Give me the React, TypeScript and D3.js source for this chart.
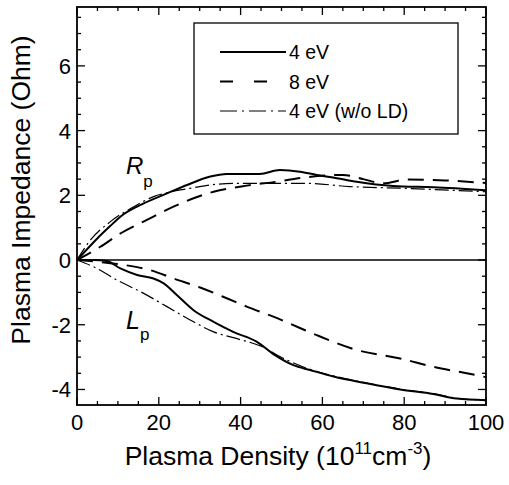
import React from "react";
import * as d3 from "d3";

const W = 509, H = 485;
const M = { left: 77, right: 486, top: 7, bottom: 405 };

const xTicks = [0, 20, 40, 60, 80, 100];
const yTicks = [-4, -2, 0, 2, 4, 6];

// R_p curves
const rp4x = [0, 4.9, 8.1, 10.6, 16.3, 22, 26.9, 32.6, 36.6, 44.7, 49.6, 54.5, 58.6, 63.5, 68.4, 77.3, 87.1, 100];
const rp4y = [0, 0.66, 1.05, 1.34, 1.75, 2.06, 2.32, 2.58, 2.66, 2.66, 2.78, 2.73, 2.63, 2.53, 2.42, 2.29, 2.25, 2.16];

const rp8x = [0, 5.7, 10.6, 17.1, 23.6, 28.5, 33.4, 41.5, 48.8, 56.2, 65, 70, 74.9, 80.6, 90, 100];
const rp8y = [0, 0.41, 0.82, 1.24, 1.65, 1.91, 2.11, 2.3, 2.42, 2.56, 2.63, 2.5, 2.37, 2.49, 2.46, 2.38];

const rpNx = [0, 3.3, 8.1, 13.9, 18.7, 22, 26.9, 32.6, 38, 44.7, 56.2, 66.7, 79, 100];
const rpNy = [0, 0.62, 1.18, 1.65, 1.96, 2.08, 2.2, 2.32, 2.37, 2.37, 2.37, 2.27, 2.22, 2.11];

// L_p curves
const lp4x = [0, 4, 7.3, 10.6, 14.7, 18.7, 21.2, 24.4, 28.5, 33.4, 38.2, 43.9, 48.4, 52.9, 57, 62.7, 70.8, 79, 87.1, 92.8, 100];
const lp4y = [0, 0, -0.03, -0.26, -0.46, -0.57, -0.72, -1.08, -1.55, -1.91, -2.22, -2.52, -2.94, -3.25, -3.4, -3.6, -3.81, -4.0, -4.14, -4.28, -4.33];

const lp8x = [0, 4.9, 11.4, 17.9, 23.6, 30.1, 36.6, 41.5, 48, 54.5, 58.6, 68.4, 79, 87.1, 95.3, 100];
const lp8y = [0, -0.05, -0.15, -0.31, -0.57, -0.85, -1.18, -1.44, -1.75, -2.1, -2.32, -2.78, -3.04, -3.3, -3.5, -3.62];

const lpNx = [0, 4.9, 9.8, 16.3, 22, 28.5, 33.4, 38.2, 44.7, 51.3, 57, 62.7, 70.8, 79, 87.1, 92.8, 100];
const lpNy = [0, -0.26, -0.62, -1.03, -1.44, -1.91, -2.22, -2.4, -2.65, -3.09, -3.38, -3.58, -3.8, -3.99, -4.13, -4.27, -4.33];

const legendLabels = ["4 eV", "8 eV", "4 eV (w/o LD)"];

const x = d3.scaleLinear().domain([0, 100]).range([M.left, M.right]);
const y = d3.scaleLinear().domain([-4.48, 7.82]).range([M.bottom, M.top]);

const line = d3
  .line<[number, number]>()
  .x((d) => x(d[0]))
  .y((d) => y(d[1]))
  .curve(d3.curveMonotoneX);

const zip = (a: number[], b: number[]) => a.map((v, i) => [v, b[i]] as [number, number]);

const SOLID = { dash: undefined as string | undefined, w: 2 };
const DASH = { dash: "16,9", w: 2 };
const DASHDOT = { dash: "14,4,2,4", w: 1.2 };

export default function App() {
  const font = "'Liberation Sans', Arial, sans-serif";
  const xMinor = d3.range(0, 100.01, 5);
  const yMinor = d3.range(-4, 7.6, 0.5);
  const curves = [
    { d: zip(rp4x, rp4y), s: SOLID },
    { d: zip(rp8x, rp8y), s: DASH },
    { d: zip(rpNx, rpNy), s: DASHDOT },
    { d: zip(lp4x, lp4y), s: SOLID },
    { d: zip(lp8x, lp8y), s: DASH },
    { d: zip(lpNx, lpNy), s: DASHDOT },
  ];
  const legendStyles = [
    { dash: undefined as string | undefined, w: 2 },
    { dash: "13,21", w: 2 },
    { dash: "17,5,2,5", w: 1.2 },
  ];
  return (
    <svg
      width={W}
      height={H}
      style={{ position: "absolute", left: 0, top: 0, background: "#fff" }}
      fontFamily={font}
    >
      <rect x={0} y={0} width={W} height={H} fill="#fff" />
      {/* zero line */}
      <line x1={M.left} x2={M.right} y1={y(0)} y2={y(0)} stroke="#000" strokeWidth={1.6} />
      {/* curves */}
      {curves.map((c, i) => (
        <path
          key={i}
          d={line(c.d) || ""}
          fill="none"
          stroke="#000"
          strokeWidth={c.s.w}
          strokeDasharray={c.s.dash}
        />
      ))}
      {/* ticks */}
      {xMinor.map((t) => {
        const major = t % 20 === 0;
        const len = major ? 8 : 4;
        return (
          <g key={"xt" + t}>
            <line x1={x(t)} x2={x(t)} y1={M.bottom} y2={M.bottom - len} stroke="#000" strokeWidth={1.3} />
            <line x1={x(t)} x2={x(t)} y1={M.top} y2={M.top + len} stroke="#000" strokeWidth={1.3} />
          </g>
        );
      })}
      {yMinor.map((t) => {
        const major = Math.abs(t % 2) < 1e-6;
        const len = major ? 8 : 4;
        return (
          <g key={"yt" + t}>
            <line x1={M.left} x2={M.left + len} y1={y(t)} y2={y(t)} stroke="#000" strokeWidth={1.3} />
            <line x1={M.right} x2={M.right - len} y1={y(t)} y2={y(t)} stroke="#000" strokeWidth={1.3} />
          </g>
        );
      })}
      {/* frame */}
      <rect
        x={M.left}
        y={M.top}
        width={M.right - M.left}
        height={M.bottom - M.top}
        fill="none"
        stroke="#000"
        strokeWidth={1.8}
      />
      {/* tick labels */}
      {xTicks.map((t) => (
        <text key={"xl" + t} x={x(t)} y={430} textAnchor="middle" fontSize={22}>
          {t}
        </text>
      ))}
      {yTicks.map((t) => (
        <text key={"yl" + t} x={71} y={y(t) + 8} textAnchor="end" fontSize={22}>
          {t}
        </text>
      ))}
      {/* axis titles */}
      <text x={278} y={465} textAnchor="middle" fontSize={26.5}>
        Plasma Density (10
        <tspan fontSize={17} dy={-11}>11</tspan>
        <tspan dy={11}>cm</tspan>
        <tspan fontSize={17} dy={-11}>-3</tspan>
        <tspan dy={11}>)</tspan>
      </text>
      <text
        transform={`translate(30,${190}) rotate(-90)`}
        textAnchor="middle"
        fontSize={26.5}
      >
        Plasma Impedance (Ohm)
      </text>
      {/* curve labels */}
      <text x={126} y={174} fontSize={24}>
        <tspan fontStyle="italic">R</tspan>
        <tspan fontSize={17} dy={13}>p</tspan>
      </text>
      <text x={126} y={329} fontSize={25}>
        <tspan fontStyle="italic">L</tspan>
        <tspan fontSize={17} dy={11}>p</tspan>
      </text>
      {/* legend */}
      <rect x={194} y={23} width={264} height={111} fill="#fff" stroke="#000" strokeWidth={1.3} />
      {legendLabels.map((lab, i) => {
        const yy = 52 + i * 29.5;
        const s = legendStyles[i];
        return (
          <g key={lab}>
            <line x1={220} x2={286} y1={yy} y2={yy} stroke="#000" strokeWidth={s.w} strokeDasharray={s.dash} />
            <text x={289} y={yy + 7} fontSize={19.5}>
              {lab}
            </text>
          </g>
        );
      })}
    </svg>
  );
}
